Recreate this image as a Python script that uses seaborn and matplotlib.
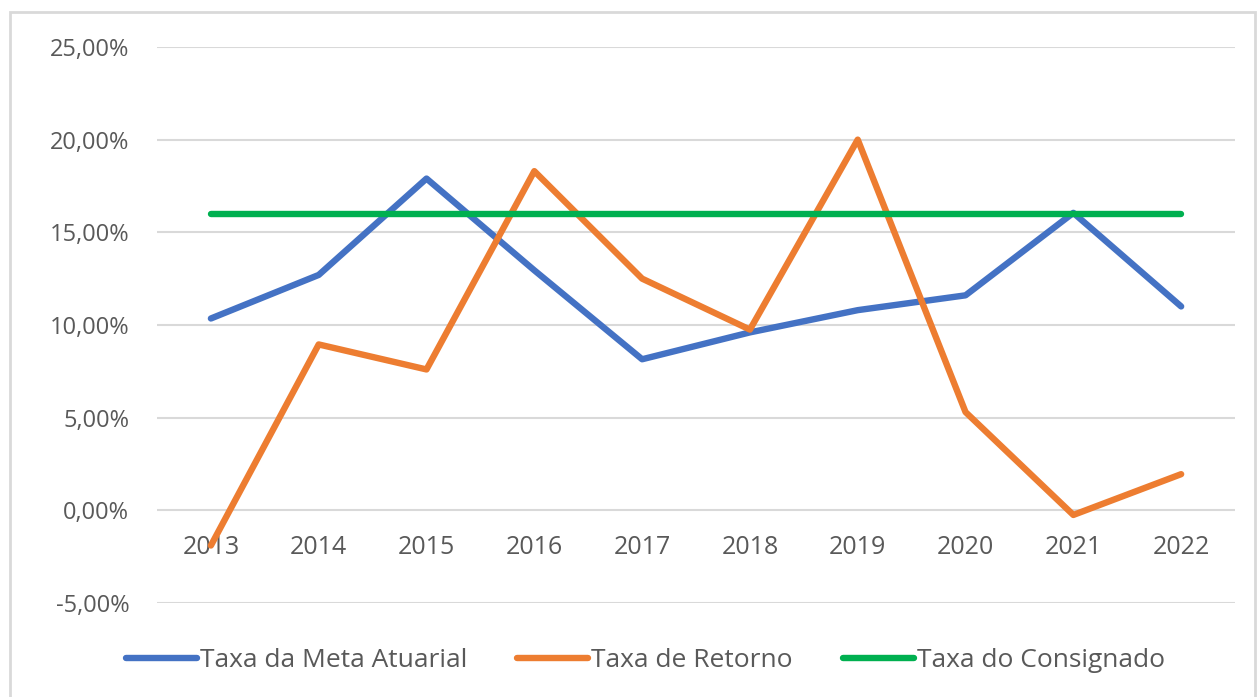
import matplotlib
matplotlib.use("Agg")
import matplotlib.pyplot as plt
import matplotlib.ticker as mticker
from matplotlib.patches import Rectangle
from matplotlib.lines import Line2D
import pandas as pd
import seaborn as sns

anos = ["2013", "2014", "2015", "2016", "2017", "2018", "2019", "2020", "2021", "2022"]
meta_atuarial = [10.35, 12.7, 17.9, 12.95, 8.15, 9.6, 10.8, 11.6, 16.05, 11.0]
taxa_retorno = [-1.9, 8.95, 7.6, 18.3, 12.5, 9.75, 20.0, 5.3, -0.25, 1.95]
taxa_consignado = [16.0] * 10

series = ["Taxa da Meta Atuarial", "Taxa de Retorno", "Taxa do Consignado"]
cores = ["#4472C4", "#ED7D31", "#00B050"]

df = pd.DataFrame({
    "ano": anos * 3,
    "valor": meta_atuarial + taxa_retorno + taxa_consignado,
    "serie": [series[0]] * 10 + [series[1]] * 10 + [series[2]] * 10,
})

sns.set_theme(style="white")
plt.rcParams["font.family"] = ["Open Sans", "DejaVu Sans"]
texto = "#595959"

fig = plt.figure(figsize=(12.6, 6.97), dpi=100)
ax = fig.add_axes([0.1246, 0.1349, 0.8556, 0.7977])

sns.lineplot(data=df, x="ano", y="valor", hue="serie", hue_order=series,
             palette=cores, linewidth=4.6, legend=False, ax=ax, zorder=3)
for ln in ax.get_lines():
    ln.set_solid_capstyle("round")
    ln.set_solid_joinstyle("round")

ax.set_ylim(-5, 25)
ax.set_xlim(-0.5, len(anos) - 0.5)
ax.yaxis.set_major_locator(mticker.MultipleLocator(5))
ax.yaxis.set_major_formatter(mticker.FuncFormatter(lambda v, _: f"{v:.2f}%".replace(".", ",")))
ax.grid(axis="y", color="#D9D9D9", linewidth=1.5)
ax.set_axisbelow(True)

for s in ["top", "right", "left"]:
    ax.spines[s].set_visible(False)
ax.spines["bottom"].set_position(("data", 0))
ax.spines["bottom"].set_visible(False)
ax.tick_params(axis="x", length=0, pad=18, labelsize=18, labelcolor=texto)
ax.tick_params(axis="y", length=0, pad=20, labelsize=17, labelcolor=texto)
ax.set_xlabel("")
ax.set_ylabel("")

handles = [Line2D([0], [0], color=c, lw=4.6, solid_capstyle="round") for c in cores]
fig.legend(handles, series, loc="center", bbox_to_anchor=(0.512, 0.052), ncol=3,
           frameon=False, fontsize=19, labelcolor=texto, handlelength=2.7,
           handletextpad=0.1, columnspacing=1.9)

fig.patches.append(Rectangle((10 / 1260, -0.01), 1245 / 1260, 1 - 12 / 697 + 0.01,
                             transform=fig.transFigure, fill=False,
                             edgecolor="#D9D9D9", linewidth=2))

fig.savefig("out.png", dpi=100)
